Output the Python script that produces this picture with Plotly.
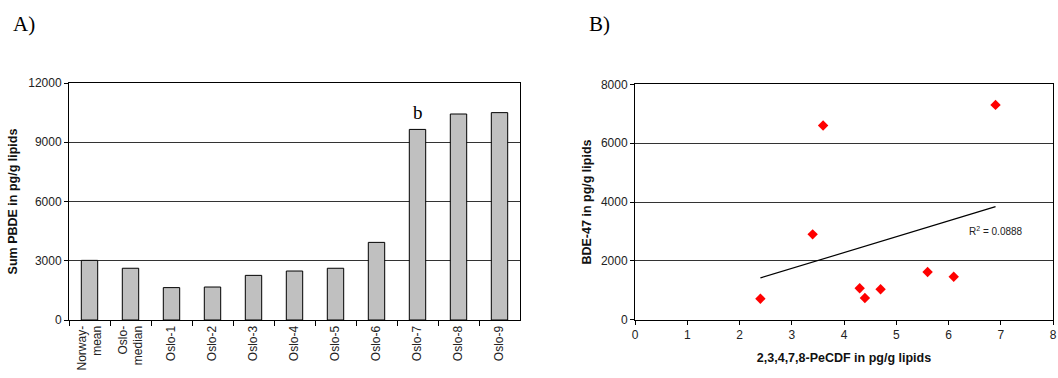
import numpy as np
import plotly.graph_objects as go

# Panel A data
categories = ["Norway-<br>mean", "Oslo-<br>median", "Oslo-1", "Oslo-2", "Oslo-3", "Oslo-4",
              "Oslo-5", "Oslo-6", "Oslo-7", "Oslo-8", "Oslo-9"]
sum_pbde = [3020, 2620, 1640, 1670, 2260, 2480, 2620, 3930, 9650, 10430, 10500]
a_ticks = [0, 3000, 6000, 9000, 12000]
a_ticktext = ["0", "3000", "6000", "9000", "12000"]

# Panel B data
pecdf = [2.4, 3.4, 3.6, 4.3, 4.4, 4.7, 5.6, 6.1, 6.9]
bde47 = [714, 2900, 6600, 1067, 737, 1033, 1620, 1460, 7300]
b_yticks = [0, 2000, 4000, 6000, 8000]
b_xticks = [0, 1, 2, 3, 4, 5, 6, 7, 8]
r2_label = "R<sup>2</sup> = 0.0888"

W, H = 1058, 378
def px(x): return x / W
def py(y): return 1 - y / H

fig = go.Figure()
fig.add_trace(go.Bar(x=categories, y=sum_pbde, marker=dict(color="#c0c0c0", line=dict(color="black", width=1)),
                     xaxis="x", yaxis="y", showlegend=False))
fig.add_trace(go.Scatter(x=pecdf, y=bde47, mode="markers",
                         marker=dict(symbol="diamond", color="#ff0000", size=8),
                         xaxis="x2", yaxis="y2", showlegend=False))
slope, icpt = np.polyfit(pecdf, bde47, 1)
xl = [min(pecdf), max(pecdf)]
fig.add_trace(go.Scatter(x=xl, y=[slope * v + icpt for v in xl], mode="lines",
                         line=dict(color="black", width=1.2), xaxis="x2", yaxis="y2", showlegend=False))

tickfont = dict(family="Liberation Sans, Arial", size=12, color="#222")
titlefont = dict(family="Liberation Sans, Arial", size=12.5, color="#111", weight="bold")

fig.update_layout(
    width=W, height=H, margin=dict(l=0, r=0, t=0, b=0),
    paper_bgcolor="white", plot_bgcolor="white", bargap=0.6,
    xaxis=dict(domain=[px(69), px(520)], anchor="y", showline=True, linecolor="black", mirror=True,
               ticks="outside", tickson="boundaries", ticklen=5, tickcolor="black",
               tickangle=-90, tickfont=tickfont, showgrid=False, automargin=False),
    yaxis=dict(domain=[py(320), py(83)], anchor="x", range=[0, 12000], tickvals=a_ticks,
               ticktext=a_ticktext, automargin=False,
               showline=True, linecolor="black", mirror=True, ticks="outside", ticklen=4,
               tickcolor="black", tickfont=tickfont, showgrid=True, gridcolor="#333", gridwidth=1,
               zeroline=False,
               title=dict(text="Sum PBDE in pg/g lipids", font=titlefont, standoff=7)),
    xaxis2=dict(domain=[px(635), px(1053)], anchor="y2", range=[0, 8], tickvals=b_xticks,
                showline=True, linecolor="black", mirror=True, ticks="outside", ticklen=4,
                tickcolor="black", tickfont=tickfont, showgrid=False, zeroline=False, automargin=False,
                ticklabeloverflow="allow",
                title=dict(text="2,3,4,7,8-PeCDF in pg/g lipids", font=titlefont, standoff=12)),
    yaxis2=dict(domain=[py(319.7), py(84.3)], anchor="x2", range=[0, 8000], tickvals=b_yticks,
                showline=True, linecolor="black", mirror=True, ticks="outside", ticklen=4,
                tickcolor="black", tickfont=tickfont, showgrid=True, gridcolor="#333", gridwidth=1,
                zeroline=False, automargin=False,
                title=dict(text="BDE-47 in pg/g lipids", font=titlefont, standoff=6)),
    annotations=[
        dict(text="A)", x=px(11), y=py(24), xref="paper", yref="paper", xanchor="left", yanchor="middle",
             showarrow=False, font=dict(family="Liberation Serif, Times New Roman", size=21, color="black")),
        dict(text="B)", x=px(587), y=py(24), xref="paper", yref="paper", xanchor="left", yanchor="middle",
             showarrow=False, font=dict(family="Liberation Serif, Times New Roman", size=21, color="black")),
        dict(text="b", x=categories[8], y=sum_pbde[8], xref="x", yref="y", yshift=17, yanchor="middle",
             showarrow=False, font=dict(family="Liberation Serif, Times New Roman", size=19, color="black")),
        dict(text=r2_label, x=6.35, y=3030, xref="x2", yref="y2", xanchor="left", yanchor="middle",
             showarrow=False, font=dict(family="Liberation Sans, Arial", size=10, color="#222")),
    ],
)
fig.write_html("out.html", config={"displayModeBar": False},
               post_script="document.body.style.margin='0';document.body.style.overflow='hidden';")
